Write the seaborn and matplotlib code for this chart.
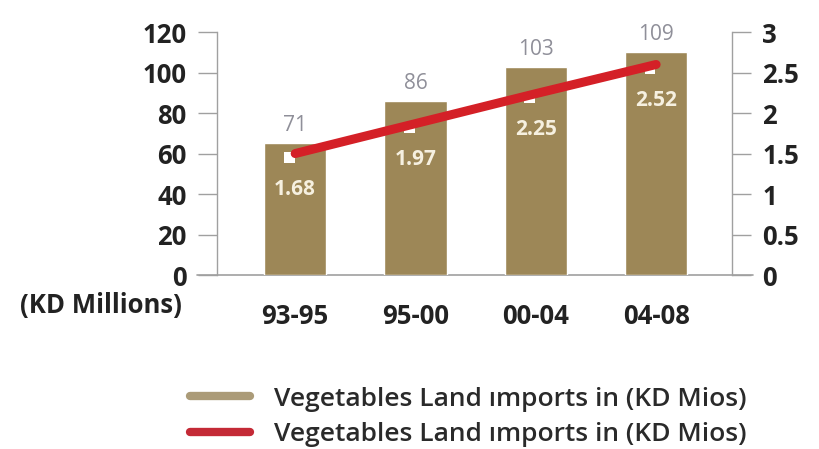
import numpy as np
import matplotlib
matplotlib.use("Agg")
import matplotlib.pyplot as plt
from matplotlib.lines import Line2D
import seaborn as sns

# Data
periods = ["93-95", "95-00", "00-04", "04-08"]
bar_values = [65, 86, 103, 110]          # drawn bar heights (KD millions)
bar_labels = ["71", "86", "103", "109"]
line_values = [1.5, 1.87, 2.24, 2.6]     # drawn line positions (right axis)
line_labels = ["1.68", "1.97", "2.25", "2.52"]
left_ticks = [0, 20, 40, 60, 80, 100, 120]
right_ticks = [0, 0.5, 1, 1.5, 2, 2.5, 3]
right_tick_labels = ["0", "0.5", "1", "1.5", "2", "2.5", "3"]
legend_labels = ["Vegetables Land \u0131mports in (KD Mios)",
                 "Vegetables Land \u0131mports in (KD Mios)"]

bar_color = "#9d8757"
line_color = "#d42027"
axis_color = "#a0a0a0"
text_color = "#222222"

sns.set_style("white")
plt.rcParams["font.family"] = ["Open Sans", "DejaVu Sans"]

fig = plt.figure(figsize=(8.2, 4.49), dpi=100)
ax = fig.add_axes([0.2646, 0.3875, 0.628, 0.541])

sns.barplot(x=periods, y=bar_values, color=bar_color, saturation=1,
            width=0.52, ax=ax, zorder=2)
ax.set_xlim(-0.65, 3.63)
ax.set_ylim(0, 120)
ax.set_yticks(left_ticks)
ax.set_xlabel("")
ax.set_ylabel("")

for spine in ["top", "right", "bottom"]:
    ax.spines[spine].set_visible(False)
ax.spines["left"].set_color(axis_color)
ax.spines["left"].set_linewidth(1)
ax.tick_params(axis="y", direction="out", length=14, width=1, color=axis_color,
               pad=8, labelsize=18.5, labelcolor=text_color)
ax.tick_params(axis="x", length=0, pad=20, labelsize=18.5, labelcolor=text_color)
for lab in ax.get_yticklabels() + ax.get_xticklabels():
    lab.set_fontweight("bold")

# base line running under both axes
ax.plot([-0.039, 1.041], [0, 0], transform=ax.transAxes, clip_on=False,
        color=axis_color, linewidth=1.2, zorder=1)

for i, (v, lab) in enumerate(zip(bar_values, bar_labels)):
    ax.annotate(lab, (i, v), xytext=(0, 5), textcoords="offset points",
                ha="center", va="bottom", fontsize=15, color="#8f8f99")

ax2 = ax.twinx()
ax2.set_ylim(0, 3)
ax2.set_yticks(right_ticks)
ax2.set_yticklabels(right_tick_labels)
for spine in ["top", "left", "bottom"]:
    ax2.spines[spine].set_visible(False)
ax2.spines["right"].set_color(axis_color)
ax2.spines["right"].set_linewidth(1)
ax2.tick_params(axis="y", direction="out", length=14, width=1, color=axis_color,
                pad=8, labelsize=18.5, labelcolor=text_color)
for lab in ax2.get_yticklabels():
    lab.set_fontweight("bold")

xpos = np.arange(len(periods))
sns.scatterplot(x=xpos - 0.05, y=[v - 0.05 for v in line_values], marker="s",
                s=60, color="white", edgecolor="none", ax=ax2, zorder=3)
sns.lineplot(x=xpos, y=line_values, color=line_color, linewidth=6.5, ax=ax2,
             zorder=4)
ax2.set_xlim(-0.65, 3.63)

for i, (v, lab) in enumerate(zip(line_values, line_labels)):
    ax2.annotate(lab, (i, v), xytext=(0, -26), textcoords="offset points",
                 ha="center", va="center", fontsize=15, fontweight="bold",
                 color="#f6f0e0", zorder=5)

fig.text(20 / 820, 1 - 305 / 449, "(KD Millions)", ha="left", va="center",
         fontsize=18.5, fontweight="bold", color=text_color)

handles = [Line2D([], [], color="#ab9b78", linewidth=6),
           Line2D([], [], color="#c42a36", linewidth=6)]
fig.legend(handles, legend_labels, loc="center left",
           bbox_to_anchor=(166 / 820, 1 - 417 / 449), frameon=False,
           handlelength=2.3, handletextpad=0.9, labelspacing=0.4,
           labelcolor="#2a2a2a", prop={"weight": "semibold", "size": 19})

fig.savefig("out.png", dpi=100)
